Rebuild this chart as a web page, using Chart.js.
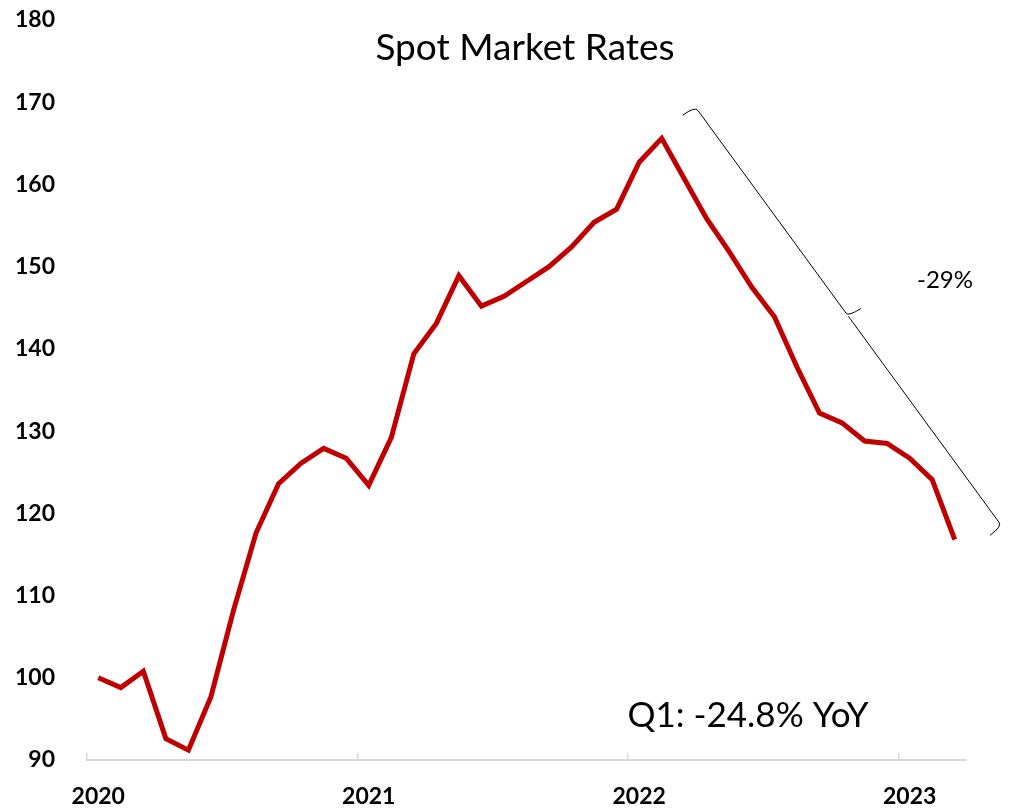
<!doctype html>
<html>
<head>
  <meta charset="utf-8" />
  <title>Spot Market Rates</title>
  <script src="https://cdn.jsdelivr.net/npm/chart.js"></script>
  <style>
    html, body { margin: 0; padding: 0; background: #fff; }
    #wrap { width: 1015px; height: 809px; }
  </style>
</head>
<body>
  <div id="wrap"><canvas id="spotChart" width="1015" height="809"></canvas></div>

<script>
  // months Jan 2020 .. Mar 2023
  var months = [
    '2020-01','2020-02','2020-03','2020-04','2020-05','2020-06','2020-07','2020-08','2020-09','2020-10','2020-11','2020-12',
    '2021-01','2021-02','2021-03','2021-04','2021-05','2021-06','2021-07','2021-08','2021-09','2021-10','2021-11','2021-12',
    '2022-01','2022-02','2022-03','2022-04','2022-05','2022-06','2022-07','2022-08','2022-09','2022-10','2022-11','2022-12',
    '2023-01','2023-02','2023-03'
  ];
  var spotRates = [
    100.0, 98.8, 100.8, 92.6, 91.2, 97.7, 108.2, 117.6, 123.6, 126.1, 127.9, 126.7,
    123.4, 129.2, 139.4, 143.1, 148.9, 145.2, 146.4, 148.2, 150.0, 152.4, 155.4, 157.0,
    162.7, 165.6, 160.7, 155.8, 151.8, 147.5, 143.9, 137.8, 132.2, 131.0, 128.8, 128.5,
    126.7, 124.1, 116.8
  ];
  var yTicks = { min: 90, max: 180, step: 10 };

  var titleText = 'Spot Market Rates';
  var yoyText = 'Q1: -24.8% YoY';
  var dropText = '-29%';
  // brace ends in data space: [category index, value]
  var braceTop = [26.47, 169.5];
  var braceBottom = [40.1, 118.4];

  var FONT = 'Lato, "Open Sans", sans-serif';

  // brace + texts drawn on top of the chart
  var annotations = {
    id: 'annotations',
    afterDraw: function (chart) {
      var ctx = chart.ctx;
      var xs = chart.scales.x, ys = chart.scales.y;
      var p1 = { x: xs.getPixelForValue(braceTop[0]), y: ys.getPixelForValue(braceTop[1]) };
      var p2 = { x: xs.getPixelForValue(braceBottom[0]), y: ys.getPixelForValue(braceBottom[1]) };
      var len = Math.hypot(p2.x - p1.x, p2.y - p1.y);
      var d = { x: (p2.x - p1.x) / len, y: (p2.y - p1.y) / len };
      var n = { x: -d.y, y: d.x };
      var w = 15;
      var m = { x: (p1.x + p2.x) / 2, y: (p1.y + p2.y) / 2 };
      function pt(p, a, b) { return [p.x + a * d.x + b * n.x, p.y + a * d.y + b * n.y]; }

      ctx.save();
      ctx.strokeStyle = '#000';
      ctx.lineWidth = 1;
      ctx.beginPath();
      var a = pt(p1, 0, w);
      ctx.moveTo(a[0], a[1]);
      var c = pt(p1, 0, 0), e = pt(p1, 5, 0);
      ctx.quadraticCurveTo(c[0], c[1], e[0], e[1]);
      e = pt(m, -4, 0);
      ctx.lineTo(e[0], e[1]);
      c = pt(m, 0, 0); e = pt(m, 1, -w);
      ctx.quadraticCurveTo(c[0], c[1], e[0], e[1]);
      ctx.moveTo(c[0], c[1]);
      e = pt(m, 4, 0);
      ctx.lineTo(e[0], e[1]);
      e = pt(p2, -5, 0);
      ctx.lineTo(e[0], e[1]);
      c = pt(p2, 0, 0); e = pt(p2, 0, w);
      ctx.quadraticCurveTo(c[0], c[1], e[0], e[1]);
      ctx.stroke();

      ctx.fillStyle = '#000';
      ctx.textAlign = 'center';
      ctx.textBaseline = 'alphabetic';
      ctx.font = '37px ' + FONT;
      ctx.fillText(titleText, 525, 60);
      ctx.font = '35px ' + FONT;
      ctx.fillText(yoyText, 748, 727);
      ctx.font = '24px ' + FONT;
      ctx.fillText(dropText, 945, 288);
      ctx.restore();
    }
  };

  var ctx = document.getElementById('spotChart').getContext('2d');
  var spotChart = new Chart(ctx, {
    type: 'line',
    data: {
      labels: months,
      datasets: [{
        label: 'Spot Market Rates',
        data: spotRates,
        borderColor: '#C00000',
        backgroundColor: '#C00000',
        borderWidth: 5,
        pointRadius: 0,
        tension: 0,
        fill: false
      }]
    },
    options: {
      responsive: false,
      animation: false,
      layout: { padding: { top: 20, right: 49, left: 0, bottom: 0 } },
      plugins: {
        legend: { display: false },
        tooltip: { enabled: false },
        title: { display: false }
      },
      scales: {
        x: {
          type: 'category',
          offset: true,
          border: { display: true, color: '#d9d9d9', width: 2 },
          grid: {
            offset: true,
            drawOnChartArea: false,
            drawTicks: true,
            tickLength: -7,
            lineWidth: 1.5,
            color: function (c) {
              if (!c.tick) return 'rgba(0,0,0,0)';
              return months[c.index] && months[c.index].slice(5) === '01' ? '#d9d9d9' : 'rgba(0,0,0,0)';
            }
          },
          ticks: {
            autoSkip: false,
            maxRotation: 0,
            padding: 30,
            color: '#000',
            font: { family: FONT, size: 23, weight: 'bold' },
            callback: function (v, i) {
              var m = months[i];
              return m.slice(5) === '01' ? m.slice(0, 4) : '';
            }
          },
          afterFit: function (s) { s.height = 49; s.paddingLeft = 0; s.paddingRight = 0; }
        },
        y: {
          min: yTicks.min,
          max: yTicks.max,
          border: { display: false },
          grid: { display: false, drawTicks: false },
          ticks: {
            stepSize: yTicks.step,
            padding: 32,
            color: '#000',
            font: { family: FONT, size: 23, weight: 'bold' }
          },
          afterFit: function (s) { s.width = 87; s.paddingTop = 0; s.paddingBottom = 0; }
        }
      }
    },
    plugins: [annotations]
  });
</script>
</body>
</html>
